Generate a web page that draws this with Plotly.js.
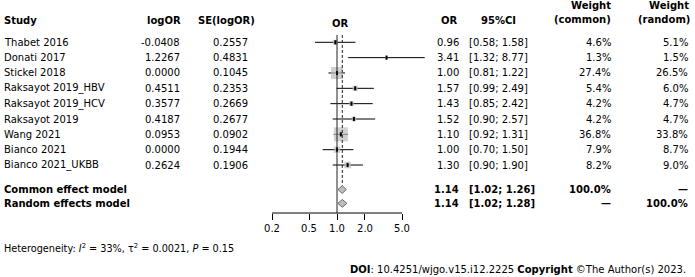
<!DOCTYPE html>
<html>
<head>
<meta charset="utf-8">
<script src="https://cdn.plot.ly/plotly-3.0.1.min.js"></script>
<style>html,body{margin:0;padding:0;background:#fff;}#chart{width:695px;height:277px;}</style>
</head>
<body>
<div id="chart"></div>
<script>
// ---- data ----
const studies = ['Thabet 2016','Donati 2017','Stickel 2018','Raksayot 2019_HBV','Raksayot 2019_HCV','Raksayot 2019','Wang 2021','Bianco 2021','Bianco 2021_UKBB'];
const logOR = [-0.0408, 1.2267, 0.0000, 0.4511, 0.3577, 0.4187, 0.0953, 0.0000, 0.2624];
const seLogOR = [0.2557, 0.4831, 0.1045, 0.2353, 0.2669, 0.2677, 0.0902, 0.1944, 0.1906];
const orVals = [0.96, 3.41, 1.00, 1.57, 1.43, 1.52, 1.10, 1.00, 1.30];
const ciLow = [0.58, 1.32, 0.81, 0.99, 0.85, 0.90, 0.92, 0.70, 0.90];
const ciHigh = [1.58, 8.77, 1.22, 2.49, 2.42, 2.57, 1.31, 1.50, 1.90];
const weightCommon = [4.6, 1.3, 27.4, 5.4, 4.2, 4.2, 36.8, 7.9, 8.2];
const weightRandom = [5.1, 1.5, 26.5, 6.0, 4.7, 4.7, 33.8, 8.7, 9.0];
const pooledLabels = ['Common effect model', 'Random effects model'];
const pooledOR = [1.14, 1.14];
const pooledLow = [1.02, 1.02];
const pooledHigh = [1.26, 1.28];
const pooledWeightCommon = ['100.0%', '\u2014'];
const pooledWeightRandom = ['\u2014', '100.0%'];
const tickVals = [0.2, 0.5, 1, 2, 5];
const tickText = ['0.2', '0.5', '1.0', '2.0', '5.0'];
const heterogeneity = 'Heterogeneity: <i>I</i><sup>2</sup> = 33%, \u03c4<sup>2</sup> = 0.0021, <i>P</i> = 0.15';
const credit = '<b>DOI</b>: 10.4251/wjgo.v15.i12.2225 <b>Copyright</b> \u00a9The Author(s) 2023.';

// ---- layout geometry (row units) ----
const W = 695, H = 277;
const rowTop = 42.3, rowStep = 15.34;
const pooledRows = [9.6, 10.5];
const axisRow = 11.13;
const lineTopRow = -0.48;
const headerRow = -1.39;
const FONT = 'DejaVu Sans';
const FS = 10;

const px = v => v / W;
const yMin = (H - rowTop) / rowStep, yMax = -rowTop / rowStep;

// x axis: 0.2 at 272px, 5 at 402px
const decPx = 130 / (Math.log10(5) - Math.log10(0.2));
const xr0 = Math.log10(0.2) - 272 / decPx;
const xr1 = Math.log10(0.2) + (W - 272) / decPx;

const traces = [];
// CI lines
const cx = [], cy = [];
studies.forEach((s, i) => { cx.push(ciLow[i], ciHigh[i], null); cy.push(i, i, null); });
traces.push({type:'scatter', mode:'lines', x: cx, y: cy, line:{color:'#000', width:1}, hoverinfo:'skip'});
// weight squares
traces.push({type:'scatter', mode:'markers', x: logOR.map(v => Math.exp(v)), y: studies.map((s,i)=>i),
  marker:{symbol:'square', color:'#bcbcbc', size: weightCommon.map(w => 2.3*Math.sqrt(w)), line:{width:0}}, hoverinfo:'skip', cliponaxis:false});
// point estimates
traces.push({type:'scatter', mode:'markers', x: logOR.map(v => Math.exp(v)), y: studies.map((s,i)=>i),
  marker:{symbol:'line-ns-open', color:'#000', size:3, line:{width:2, color:'#000'}}, hoverinfo:'skip', cliponaxis:false});
// reference line at 1
traces.push({type:'scatter', mode:'lines', x:[1,1], y:[lineTopRow, axisRow], line:{color:'#222', width:1}, hoverinfo:'skip'});
// common effect dashed line
traces.push({type:'scatter', mode:'lines', x:[pooledOR[0], pooledOR[0]], y:[lineTopRow, pooledRows[0]-0.25], line:{color:'#222', width:1, dash:'3px,2px'}, hoverinfo:'skip'});
// diamonds
const dh = 0.25;
pooledOR.forEach((o, k) => {
  const r = pooledRows[k];
  traces.push({type:'scatter', mode:'lines', fill:'toself', fillcolor:'#bdbdbd',
    x:[pooledLow[k], o, pooledHigh[k], o, pooledLow[k]], y:[r, r-dh, r, r+dh, r],
    line:{color:'#6e6e6e', width:1}, hoverinfo:'skip'});
});
// axis line
traces.push({type:'scatter', mode:'lines', x:[tickVals[0], tickVals[tickVals.length-1]], y:[axisRow, axisRow], line:{color:'#000', width:1}, hoverinfo:'skip'});

// ---- text ----
const ann = [];
function T(text, xpx, row, anchor, opts) {
  opts = opts || {};
  ann.push({text: text, x: px(xpx), xref:'paper', y: row, yref:'y', xanchor: anchor, yanchor:'middle',
    showarrow:false, font:{family: FONT, size: opts.size || FS, color:'#000'}});
}
// headers
T('<b>Study</b>', 2, headerRow, 'left');
T('<b>logOR</b>', 183, headerRow, 'right');
T('<b>SE(logOR)</b>', 257, headerRow, 'right');
T('<b>OR</b>', 340, headerRow + 0.15, 'center');
T('<b>OR</b>', 460, headerRow, 'right');
T('<b>95%CI</b>', 498, headerRow, 'center');
T('<b>Weight</b>', 613, -2.37, 'right');
T('<b>(common)</b>', 613, headerRow - 0.08, 'right');
T('<b>Weight</b>', 691, -2.37, 'right');
T('<b>(random)</b>', 692, headerRow - 0.08, 'right');
// study rows
studies.forEach((s, i) => {
  T(s, 2, i, 'left');
  T(logOR[i].toFixed(4), 182, i, 'right');
  T(seLogOR[i].toFixed(4), 250, i, 'right');
  T(orVals[i].toFixed(2), 461, i, 'right');
  T('[' + ciLow[i].toFixed(2) + '; ' + ciHigh[i].toFixed(2) + ']', 467, i, 'left');
  T(weightCommon[i].toFixed(1) + '%', 613, i, 'right');
  T(weightRandom[i].toFixed(1) + '%', 690, i, 'right');
});
// pooled rows
pooledLabels.forEach((s, k) => {
  const r = pooledRows[k];
  T('<b>' + s + '</b>', 2, r, 'left');
  T('<b>' + pooledOR[k].toFixed(2) + '</b>', 461, r, 'right');
  T('<b>[' + pooledLow[k].toFixed(2) + '; ' + pooledHigh[k].toFixed(2) + ']</b>', 467, r, 'left');
  T('<b>' + pooledWeightCommon[k] + '</b>', 613, r, 'right');
  T('<b>' + pooledWeightRandom[k] + '</b>', 690, r, 'right');
});
T(heterogeneity, 2, 13.4, 'left', {size: 9.7});
T(credit, 688, 14.78, 'right', {size: 10});

const layout = {
  width: W, height: H,
  margin:{l:0, r:0, t:0, b:0, pad:0},
  paper_bgcolor:'#fff', plot_bgcolor:'rgba(0,0,0,0)',
  showlegend:false,
  font:{family: FONT, size: FS, color:'#000'},
  xaxis:{type:'log', range:[xr0, xr1], domain:[0,1], anchor:'free', position:(H - (rowTop + rowStep*axisRow))/H,
    showline:false, showgrid:false, zeroline:false, ticks:'outside', ticklen:6, tickwidth:1, tickcolor:'#000',
    tickvals: tickVals, ticktext: tickText, tickfont:{family: FONT, size: FS, color:'#000'}, fixedrange:true},
  yaxis:{range:[yMin, yMax], domain:[0,1], visible:false, showgrid:false, zeroline:false, fixedrange:true},
  annotations: ann
};
Plotly.newPlot('chart', traces, layout, {staticPlot:true, displayModeBar:false});
</script>
</body>
</html>
